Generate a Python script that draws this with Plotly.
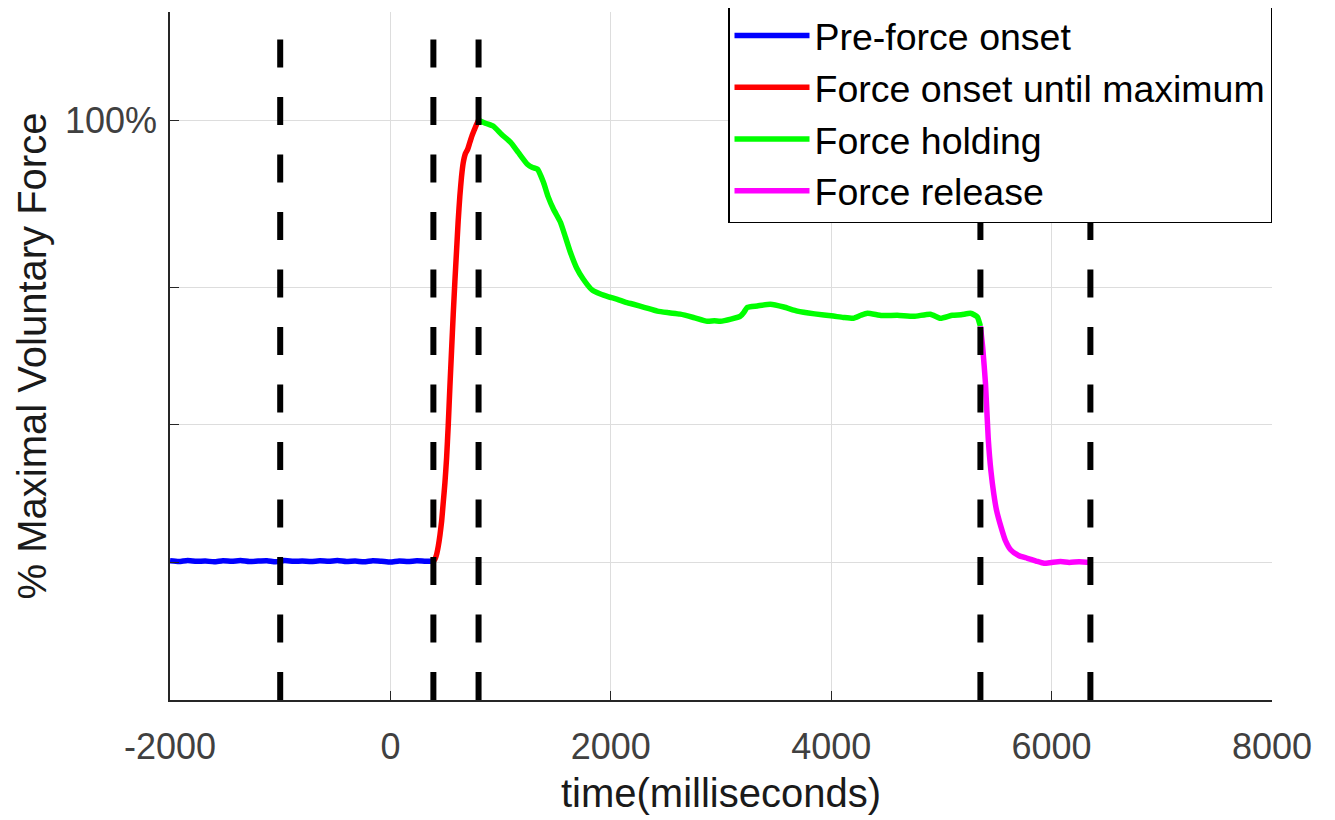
import plotly.graph_objects as go

# ---- data (time in ms, force in raw units; 100% MVF = PEAK) ----
PEAK = 1.607

blue_t = [-2000, -1920, -1840, -1760, -1680, -1600, -1520, -1440, -1360, -1280, -1200,
          -1120, -1040, -960, -880, -800, -720, -640, -560, -480, -400, -320, -240,
          -160, -80, 0, 80, 160, 240, 320, 390]
blue_y = [0.006, 0.003, 0.007, 0.004, 0.005, 0.002, 0.006, 0.004, 0.007, 0.003, 0.005,
          0.006, 0.002, 0.007, 0.004, 0.005, 0.003, 0.006, 0.004, 0.007, 0.003, 0.005,
          0.002, 0.006, 0.004, 0.001, 0.005, 0.003, 0.006, 0.004, 0.004]

red_t = [390, 405, 420, 435, 450, 465, 480, 495, 510, 525, 540, 555, 570, 585, 600, 615,
         630, 645, 660, 680, 700, 720, 740, 760, 780, 800]
red_y = [0.004, 0.012, 0.03, 0.06, 0.10, 0.15, 0.22, 0.29, 0.38, 0.50, 0.64, 0.77, 0.90,
         1.02, 1.13, 1.24, 1.33, 1.40, 1.45, 1.485, 1.50, 1.525, 1.55, 1.57, 1.59, 1.607]

green_t = [800, 870, 935, 1010, 1089, 1160, 1243, 1290, 1334, 1388, 1430, 1479, 1543, 1590,
           1633, 1690, 1751, 1830, 1906, 1980, 2060, 2130, 2205, 2310, 2423, 2530, 2631,
           2750, 2876, 2940, 2994, 3090, 3176, 3210, 3239, 3330, 3448, 3570, 3693, 3850,
           4020, 4110, 4201, 4270, 4328, 4460, 4600, 4750, 4900, 4991, 5100, 5180, 5263,
           5300, 5327, 5354]
green_y = [1.607, 1.595, 1.585, 1.555, 1.527, 1.49, 1.447, 1.435, 1.429, 1.382, 1.33, 1.284,
           1.236, 1.18, 1.127, 1.07, 1.029, 0.99, 0.975, 0.965, 0.956, 0.946, 0.938, 0.926,
           0.913, 0.907, 0.902, 0.89, 0.876, 0.878, 0.876, 0.884, 0.895, 0.91, 0.927, 0.932,
           0.938, 0.928, 0.913, 0.903, 0.895, 0.89, 0.887, 0.898, 0.905, 0.897, 0.898, 0.894,
           0.902, 0.887, 0.898, 0.9, 0.905, 0.899, 0.891, 0.858]

mag_t = [5354, 5375, 5400, 5425, 5450, 5475, 5500, 5540, 5580, 5630, 5700, 5780, 5860,
         5930, 6000, 6080, 6160, 6250, 6352]
mag_y = [0.858, 0.78, 0.65, 0.45, 0.33, 0.25, 0.19, 0.13, 0.08, 0.045, 0.025, 0.015, 0.005,
         -0.003, 0.0, 0.003, 0.0, 0.002, 0.0]

phase_bounds = [-1000, 390, 800, 5354, 6352]

series = [
    ("Pre-force onset", blue_t, blue_y, "#0000FF"),
    ("Force onset until maximum", red_t, red_y, "#FF0000"),
    ("Force holding", green_t, green_y, "#00FF00"),
    ("Force release", mag_t, mag_y, "#FF00FF"),
]

x_ticks = [-2000, 0, 2000, 4000, 6000, 8000]
x_ticktext = ["-2000", "0", "2000", "4000", "6000", "8000"]
y_ticks = [0, 0.5, 1.0, PEAK, 2.0]
y_ticktext = ["", "", "", "100%", ""]
Y_RANGE = [-0.5, 2.0]
X_RANGE = [-2000, 8000]

FONT = "Liberation Sans, Arial, Helvetica, sans-serif"

fig = go.Figure()
for name, t, y, c in series:
    fig.add_trace(go.Scatter(x=t, y=y, mode="lines", name=name,
                             line=dict(color=c, width=5.5, shape="spline", smoothing=0.5)))

for xb in phase_bounds:
    fig.add_trace(go.Scatter(x=[xb, xb], y=Y_RANGE, mode="lines", showlegend=False,
                             hoverinfo="skip",
                             line=dict(color="black", width=6, dash="28px,29.5px")))

fig.update_layout(
    width=1335, height=820,
    margin=dict(l=162, r=71, t=4, b=128, autoexpand=False),
    paper_bgcolor="white", plot_bgcolor="white",
    font=dict(family=FONT, size=36, color="#262626"),
    legend=dict(x=1, xanchor="right", y=1.013, yanchor="top",
                bgcolor="white", bordercolor="black", borderwidth=1.5,
                font=dict(size=37.5, color="black"), itemwidth=75,
                tracegroupgap=0),
)
fig.update_xaxes(range=X_RANGE, tickvals=x_ticks, ticktext=x_ticktext,
                 showgrid=True, gridcolor="#dddddd", gridwidth=1,
                 showline=True, linecolor="#262626", linewidth=1.5,
                 ticks="inside", ticklen=9, tickcolor="#262626",
                 zeroline=False, tickfont=dict(size=36, color="#404040"),
                 ticklabelstandoff=14,
                 title=dict(text="time(milliseconds)", font=dict(size=40, color="#1a1a1a"),
                            standoff=13))
fig.update_yaxes(range=Y_RANGE, tickvals=y_ticks, ticktext=y_ticktext,
                 showgrid=True, gridcolor="#dddddd", gridwidth=1,
                 showline=True, linecolor="#262626", linewidth=1.5,
                 ticks="inside", ticklen=9, tickcolor="#262626",
                 zeroline=False, tickfont=dict(size=36, color="#404040"),
                 ticklabelstandoff=4,
                 title=dict(text="% Maximal Voluntary Force", font=dict(size=40, color="#1a1a1a"),
                            standoff=6))

fig.write_html("out.html")
